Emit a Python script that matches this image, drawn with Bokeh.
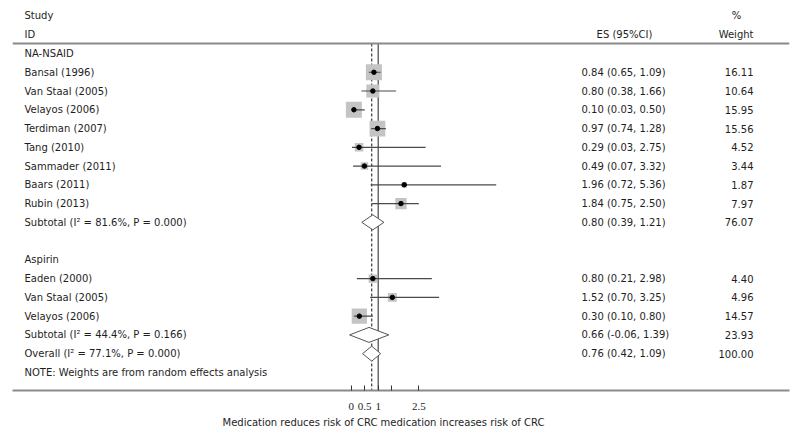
from bokeh.plotting import figure
from bokeh.models import Range1d, Span, Title, FixedTicker, LinearAxis, ColumnDataSource
from bokeh.embed import file_html
from bokeh.resources import INLINE
from bokeh.core.properties import value
import math

# ---- data ----
nsaid_studies = ["Bansal (1996)", "Van Staal (2005)", "Velayos (2006)", "Terdiman (2007)",
                 "Tang (2010)", "Sammader (2011)", "Baars (2011)", "Rubin (2013)"]
nsaid_es = [0.84, 0.80, 0.10, 0.97, 0.29, 0.49, 1.96, 1.84]
nsaid_lo = [0.65, 0.38, 0.03, 0.74, 0.03, 0.07, 0.72, 0.75]
nsaid_hi = [1.09, 1.66, 0.50, 1.28, 2.75, 3.32, 5.36, 2.50]
nsaid_w = [16.11, 10.64, 15.95, 15.56, 4.52, 3.44, 1.87, 7.97]
nsaid_sub = (0.80, 0.39, 1.21, 76.07)
nsaid_sub_label = "Subtotal (I² = 81.6%, P = 0.000)"

asp_studies = ["Eaden (2000)", "Van Staal (2005)", "Velayos (2006)"]
asp_es = [0.80, 1.52, 0.30]
asp_lo = [0.21, 0.70, 0.10]
asp_hi = [2.98, 3.25, 0.80]
asp_w = [4.40, 4.96, 14.57]
asp_sub = (0.66, -0.06, 1.39, 23.93)
asp_sub_label = "Subtotal (I² = 44.4%, P = 0.166)"

overall = (0.76, 0.42, 1.09, 100.00)
overall_label = "Overall (I² = 77.1%, P = 0.000)"
note = "NOTE: Weights are from random effects analysis"

tick_values = [0, 0.5, 1, 1.5, 2.5]
tick_labels = {0: "0", 0.5: "0.5", 1: "1", 1.5: "", 2.5: "2.5"}
x_label = "Medication reduces risk of CRC medication increases risk of CRC"

# ---- rows ----
rows_nsaid = list(range(1, 1 + len(nsaid_studies)))
row_nsaid_sub = 9
row_asp_head = 11
rows_asp = list(range(12, 12 + len(asp_studies)))
row_asp_sub = 15
row_overall = 16
row_note = 17

FONT = "DejaVu Sans"
FS = "10px"
TXT = "#1e1e1e"

Y_TOP_LINE = -0.533
Y_BOTTOM = 17.964

p = figure(width=800, height=438, output_backend="svg", toolbar_location=None,
           x_range=Range1d(-12.521, 16.203), y_range=Range1d(Y_BOTTOM, -2.825),
           min_border_left=12, min_border_right=11, min_border_top=0, min_border_bottom=48,
           x_axis_location=None, y_axis_location=None)
p.outline_line_color = None
p.grid.visible = False
p.background_fill_color = "white"
p.border_fill_color = "white"
p.extra_x_ranges = {"px": Range1d(12, 789)}

# axis at the bottom
ax = LinearAxis(ticker=FixedTicker(ticks=tick_values), major_label_overrides=tick_labels)
ax.axis_line_color = "#8a8a8a"
ax.axis_line_width = 2
ax.major_tick_in = 5
ax.major_tick_out = 0
ax.minor_tick_line_color = None
ax.major_tick_line_color = "#333333"
ax.major_label_text_font = "Liberation Serif"
ax.major_label_text_font_size = "11px"
ax.major_label_text_color = TXT
ax.major_label_standoff = 12
p.add_layout(ax, "below")

p.add_layout(Title(text=x_label, align="left", offset=210, standoff=4,
                   text_font=FONT, text_font_size=FS, text_color=TXT,
                   text_font_style="normal"), "below")

# top separator line
p.add_layout(Span(location=Y_TOP_LINE, dimension="width", line_color="#8a8a8a", line_width=2))

# null line and overall dashed line
p.segment(x0=[1], y0=[Y_TOP_LINE], x1=[1], y1=[Y_BOTTOM], line_color="#6a6a6a", line_width=1.5)
p.segment(x0=[overall[0]], y0=[Y_TOP_LINE], x1=[overall[0]], y1=[Y_BOTTOM],
          line_color="#111111", line_width=1, line_dash="3 2")

# study boxes, CIs and points
all_rows = rows_nsaid + rows_asp
all_es = nsaid_es + asp_es
all_lo = nsaid_lo + asp_lo
all_hi = nsaid_hi + asp_hi
all_w = nsaid_w + asp_w
src = ColumnDataSource(dict(y=all_rows, es=all_es, lo=all_lo, hi=all_hi,
                            size=[4.0 * math.sqrt(w) for w in all_w]))
p.scatter(x="es", y="y", size="size", marker="square", source=src,
          fill_color="#c4c4c4", line_color=None)
p.segment(x0="lo", y0="y", x1="hi", y1="y", source=src, line_color="#4a4a4a", line_width=1.2)
p.scatter(x="es", y="y", size=4.5, marker="circle", source=src,
          fill_color="black", line_color="black")

# diamonds
h = 7.5 / 18.76
dia = [(row_nsaid_sub, nsaid_sub), (row_asp_sub, asp_sub), (row_overall, overall)]
xs = [[d[1], d[0], d[2], d[0]] for _, d in dia]
ys = [[r, r - h, r, r + h] for r, _ in dia]
p.patches(xs=xs, ys=ys, fill_color="white", line_color="#555555", line_width=1)

# text columns
left_labels = (["NA-NSAID"] + nsaid_studies + [nsaid_sub_label, "Aspirin"] + asp_studies
               + [asp_sub_label, overall_label, note])
left_rows = ([0] + rows_nsaid + [row_nsaid_sub, row_asp_head] + rows_asp
             + [row_asp_sub, row_overall, row_note])

def fmt(es, lo, hi):
    return f"{es:.2f} ({lo:.2f}, {hi:.2f})"

es_labels = ([fmt(e, l, hh) for e, l, hh in zip(nsaid_es, nsaid_lo, nsaid_hi)]
             + [fmt(*nsaid_sub[:3])]
             + [fmt(e, l, hh) for e, l, hh in zip(asp_es, asp_lo, asp_hi)]
             + [fmt(*asp_sub[:3]), fmt(*overall[:3])])
w_labels = ([f"{w:.2f}" for w in nsaid_w] + [f"{nsaid_sub[3]:.2f}"]
            + [f"{w:.2f}" for w in asp_w] + [f"{asp_sub[3]:.2f}", f"{overall[3]:.2f}"])
val_rows = rows_nsaid + [row_nsaid_sub] + rows_asp + [row_asp_sub, row_overall]

common = dict(text_font=value(FONT), text_font_size=FS, text_color=TXT,
              text_baseline="middle", x_range_name="px")
p.text(x=[24, 24], y=[-2, -1], text=["Study", "ID"], text_align="left", **common)
p.text(x=[24] * len(left_labels), y=left_rows, text=left_labels, text_align="left", **common)
p.text(x=[624], y=[-1], text=["ES (95%CI)"], text_align="center", **common)
p.text(x=[736, 753], y=[-2, -1], text=["%", "Weight"], text_align=["center", "right"], **common)
p.text(x=[581] * len(es_labels), y=val_rows, text=es_labels, text_align="left", **common)
p.text(x=[753] * len(w_labels), y=val_rows, text=w_labels, text_align="right", **common)

open("out.html", "w").write(file_html(p, INLINE))
